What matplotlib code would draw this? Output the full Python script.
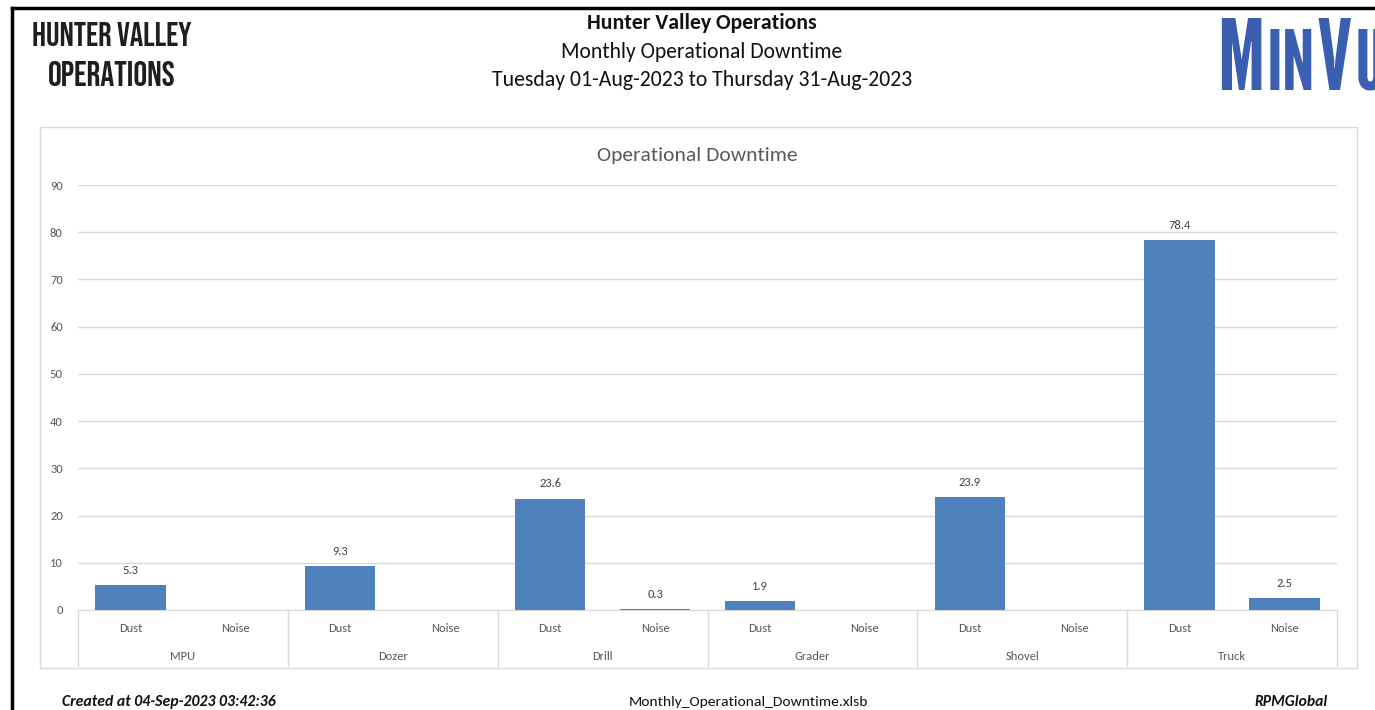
import matplotlib
matplotlib.use("Agg")
import matplotlib.pyplot as plt
import numpy as np
from matplotlib.patches import Rectangle
from matplotlib.lines import Line2D
from matplotlib import font_manager as fm
from matplotlib.textpath import TextPath
from matplotlib.font_manager import FontProperties

groups = ["MPU", "Dozer", "Drill", "Grader", "Shovel", "Truck"]
subcats = ["Dust", "Noise"]
dust = [5.3, 9.3, 23.6, 1.9, 23.9, 78.4]
noise = [0.0, 0.0, 0.3, 0.0, 0.0, 2.5]
yticks = [0, 10, 20, 30, 40, 50, 60, 70, 80, 90]

W, H = 1375, 710
avail = {f.name for f in fm.fontManager.ttflist}

def pick(*names):
    for n in names:
        if n in avail:
            return n
    return "DejaVu Sans"

BODY = pick("Carlito", "Open Sans")
HEAD = pick("Bebas Neue", "Fjalla One", "League Gothic", "Roboto Condensed")
LOGO = pick("League Gothic", "Bebas Neue", "Oswald")
plt.rcParams["font.family"] = [BODY, "DejaVu Sans"]

fig = plt.figure(figsize=(W / 100, H / 100), dpi=100)
renderer = fig.canvas.get_renderer()

def fx(x):
    return x / W

def fy(y):
    return 1 - y / H

def fit_text(x, y, s, target_w, **kw):
    t = fig.text(fx(x), fy(y), s, fontsize=10, **kw)
    w = t.get_window_extent(renderer).width
    t.set_fontsize(10 * target_w / w)
    return t

def size_for_cap(family, cap_px, weight="normal"):
    tp = TextPath((0, 0), "M", size=100, prop=FontProperties(family=family, weight=weight))
    h = tp.get_extents().height  # points at size 100
    return cap_px * 72 / 100 * 100 / h

# page border
fig.add_artist(Line2D([fx(12), 1.0], [fy(8), fy(8)], color="black", lw=2.5, transform=fig.transFigure))
fig.add_artist(Line2D([fx(12), fx(12)], [fy(8), 0], color="black", lw=2.5, transform=fig.transFigure))

# chart frame
fig.add_artist(Rectangle((fx(40), fy(668)), fx(1357) - fx(40), fy(127) - fy(668),
                         transform=fig.transFigure, fill=False, ec="#d9d9d9", lw=1.0))

# left header
fit_text(32, 34, "HUNTER VALLEY", 161, family=HEAD, fontweight="bold", ha="left", va="center", color="#1e1e1e")
fit_text(48, 73, "OPERATIONS", 129, family=HEAD, fontweight="bold", ha="left", va="center", color="#1e1e1e")

# center header
fit_text(702, 23, "Hunter Valley Operations", 230, fontweight="bold", ha="center", va="center", color="#111111")
fit_text(702, 52, "Monthly Operational Downtime", 283, ha="center", va="center", color="#111111")
fit_text(702, 80, "Tuesday 01-Aug-2023 to Thursday 31-Aug-2023", 421, ha="center", va="center", color="#111111")

# MinVu logo (small caps look)
logo_c = "#3a5fb0"
big = size_for_cap(LOGO, 72)
small = size_for_cap(LOGO, 61)
xcur = 1217
for part, sz in [("M", big), ("IN", small), ("V", big), ("U", small)]:
    t = fig.text(fx(xcur), fy(90), part, fontsize=sz, family=LOGO, ha="left", va="baseline", color=logo_c)
    xcur += t.get_window_extent(renderer).width + 2

# axes
ax = fig.add_axes([fx(78), fy(610), fx(1337) - fx(78), fy(185) - fy(610)])
n = len(groups) * len(subcats)
x = np.arange(n)
vals = []
for d, nz in zip(dust, noise):
    vals += [d, nz]
bar_c = "#4f81bd"
ax.bar(x, vals, width=0.67, color=bar_c, zorder=3)
for xi, v in zip(x, vals):
    if v > 0:
        ax.annotate(f"{v:.1f}", (xi, v), xytext=(0, 10.5), textcoords="offset points",
                    ha="center", va="center", fontsize=9, color="#404040")
ax.set_xlim(-0.5, n - 0.5)
ax.set_ylim(0, 90)
ax.set_yticks(yticks)
ax.yaxis.grid(True, color="#d9d9d9", lw=1, zorder=0)
ax.tick_params(axis="y", length=0, labelsize=9, labelcolor="#595959", pad=11)
ax.set_xticks([])
for s in ["top", "right", "left"]:
    ax.spines[s].set_visible(False)
ax.spines["bottom"].set_color("#d9d9d9")

trans = ax.get_xaxis_transform()
ylab1 = -(628 - 610) / (610 - 185)
ylab2 = -(657 - 610) / (610 - 185)
ybot = -(666 - 610) / (610 - 185)
for i, lab in enumerate(subcats * len(groups)):
    ax.text(i, ylab1, lab, transform=trans, ha="center", va="center", fontsize=9, color="#595959", clip_on=False)
for g, name in enumerate(groups):
    ax.text(2 * g + 0.5, ylab2, name, transform=trans, ha="center", va="center", fontsize=9, color="#595959", clip_on=False)
for b in np.arange(-0.5, n, 2):
    ax.add_line(Line2D([b, b], [0, ybot], transform=trans, color="#d9d9d9", lw=1, clip_on=False))

fit_text(697, 155, "Operational Downtime", 201, ha="center", va="center", color="#595959")

# footer
fit_text(62, 702, "Created at 04-Sep-2023 03:42:36", 213, fontweight="bold", style="italic",
         ha="left", va="center", color="#111111")
fit_text(748, 702, "Monthly_Operational_Downtime.xlsb", 239, ha="center", va="center", color="#111111")
fit_text(1328, 702, "RPMGlobal", 73, fontweight="bold", style="italic", ha="right", va="center", color="#111111")

fig.savefig("out.png", dpi=100, facecolor="white")
